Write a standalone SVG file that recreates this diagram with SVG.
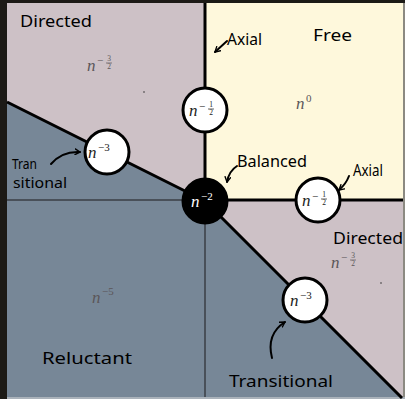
<svg xmlns="http://www.w3.org/2000/svg" width="405" height="399" viewBox="0 0 405 399">
  <defs>
    <style>
      .hand { font-family: "Noto Sans", "Liberation Sans", sans-serif; font-size: 17px; fill: #000; font-weight: 400; }
      .hand.sm { font-size: 15px; }
      .mi { font-family: "Liberation Serif", "DejaVu Serif", serif; font-style: italic; font-size: 17px; }
      .sup { font-family: "Liberation Serif", "DejaVu Serif", serif; font-size: 11px; }
      .frac { font-family: "Liberation Serif", "DejaVu Serif", serif; font-size: 7.5px; text-anchor: middle; }
      .region { fill: #5b5659; }
      .node circle { fill: #fff; stroke: #000; stroke-width: 3; }
      .node text { fill: #222; }
      .node.dark circle { fill: #000; }
      .node.dark text { fill: #fff; }
      .bound { stroke: #000; stroke-width: 3; fill: none; }
      .axis { stroke: #3a3e45; stroke-width: 1.5; fill: none; }
      .pointer { stroke: #000; stroke-width: 2; fill: none; stroke-linecap: round; marker-end: url(#head); }
    </style>
    <marker id="head" viewBox="0 0 10 10" refX="8" refY="5" markerWidth="7" markerHeight="7" orient="auto-start-reverse" markerUnits="userSpaceOnUse">
      <path d="M1,1 L8,5 L1,9" fill="none" stroke="#000" stroke-width="2" stroke-linecap="round" stroke-linejoin="round"/>
    </marker>
  </defs>

  <!-- frame -->
  <rect x="0" y="0" width="405" height="399" fill="#1c1a16"/>
  <rect x="403" y="3" width="2" height="396" fill="#8c8a82"/>
  <rect x="7" y="397" width="398" height="2" fill="#aab2ba"/>

  <!-- regions -->
  <rect x="7" y="3" width="396" height="394" fill="#cdc1c6"/>
  <rect x="205" y="3" width="198" height="197" fill="#fef8dc"/>
  <polygon points="7,102 205,201 401,397 7,397" fill="#778797"/>

  <!-- region exponents -->
  <g class="region">
    <text class="mi" x="87" y="71">n</text>
    <text class="sup" x="97" y="64">−</text>
    <text class="frac" x="109" y="61">3</text>
    <line x1="106" y1="63" x2="112" y2="63" stroke="#5b5659" stroke-width="0.7"/>
    <text class="frac" x="109" y="69">2</text>

    <text class="mi" x="296" y="109">n</text>
    <text class="sup" x="306" y="102">0</text>

    <text class="mi" x="92" y="303">n</text>
    <text class="sup" x="102" y="295">−5</text>

    <text class="mi" x="331" y="268">n</text>
    <text class="sup" x="341" y="261">−</text>
    <text class="frac" x="353" y="258">3</text>
    <line x1="350" y1="260" x2="356" y2="260" stroke="#5b5659" stroke-width="0.7"/>
    <text class="frac" x="353" y="266">2</text>
  </g>
  <circle cx="144" cy="92" r="0.8" fill="#333"/>
  <circle cx="381" cy="283" r="0.8" fill="#333"/>

  <!-- connectors: region boundaries and axes -->
  <g id="connectors">
    <line class="axis" x1="7" y1="200" x2="205" y2="200"/>
    <line class="axis" x1="205" y1="201" x2="205" y2="397"/>
    <line class="bound" x1="7" y1="102" x2="205" y2="201"/>
    <line class="bound" x1="205" y1="201" x2="402" y2="398"/>
    <line class="bound" x1="205" y1="3" x2="205" y2="201"/>
    <line class="bound" x1="205" y1="200" x2="403" y2="200"/>
  </g>

  <!-- nodes -->
  <g id="node-transitional-left" class="node">
    <circle cx="107" cy="152" r="22"/>
    <text class="mi" x="88" y="158">n</text>
    <text class="sup" x="98" y="151">−3</text>
  </g>
  <g id="node-axial-top" class="node">
    <circle cx="205" cy="110" r="22"/>
    <text class="mi" x="189" y="116">n</text>
    <text class="sup" x="199" y="110">−</text>
    <text class="frac" x="211" y="107">1</text>
    <line x1="208" y1="109" x2="214" y2="109" stroke="#222" stroke-width="0.7"/>
    <text class="frac" x="211" y="115">2</text>
  </g>
  <g id="node-balanced" class="node dark">
    <circle cx="205" cy="201" r="22"/>
    <text class="mi" x="191" y="207">n</text>
    <text class="sup" x="201" y="200">−2</text>
  </g>
  <g id="node-axial-right" class="node">
    <circle cx="318" cy="200" r="22"/>
    <text class="mi" x="302" y="206">n</text>
    <text class="sup" x="312" y="200">−</text>
    <text class="frac" x="324" y="197">1</text>
    <line x1="321" y1="199" x2="327" y2="199" stroke="#222" stroke-width="0.7"/>
    <text class="frac" x="324" y="205">2</text>
  </g>
  <g id="node-transitional-right" class="node">
    <circle cx="305" cy="300" r="22"/>
    <text class="mi" x="290" y="306">n</text>
    <text class="sup" x="300" y="299">−3</text>
  </g>

  <!-- annotations -->
  <g id="annotations">
    <text class="hand" x="20" y="27" textLength="72" lengthAdjust="spacingAndGlyphs">Directed</text>
    <text class="hand" x="227" y="45" textLength="35" lengthAdjust="spacingAndGlyphs">Axial</text>
    <path class="pointer" d="M227,41 L215,52"/>
    <text class="hand" x="313" y="41" textLength="39" lengthAdjust="spacingAndGlyphs">Free</text>
    <text class="hand" x="237" y="167" textLength="70" lengthAdjust="spacingAndGlyphs">Balanced</text>
    <path class="pointer" d="M237,166 Q229,171 227,182"/>
    <text class="hand" x="353" y="176" textLength="30" lengthAdjust="spacingAndGlyphs">Axial</text>
    <path class="pointer" d="M349,176 Q346,184 339,190"/>
    <text class="hand" x="333" y="244" textLength="70" lengthAdjust="spacingAndGlyphs">Directed</text>
    <text class="hand sm" x="12" y="169" textLength="25" lengthAdjust="spacingAndGlyphs">Tran</text>
    <text class="hand sm" x="13" y="188" textLength="54" lengthAdjust="spacingAndGlyphs">sitional</text>
    <path class="pointer" d="M51,164 Q62,151 80,152"/>
    <text class="hand" x="42" y="364" textLength="90" lengthAdjust="spacingAndGlyphs">Reluctant</text>
    <text class="hand" x="229" y="387" textLength="104" lengthAdjust="spacingAndGlyphs">Transitional</text>
    <path class="pointer" d="M272,358 Q266,334 285,322"/>
  </g>
</svg>
